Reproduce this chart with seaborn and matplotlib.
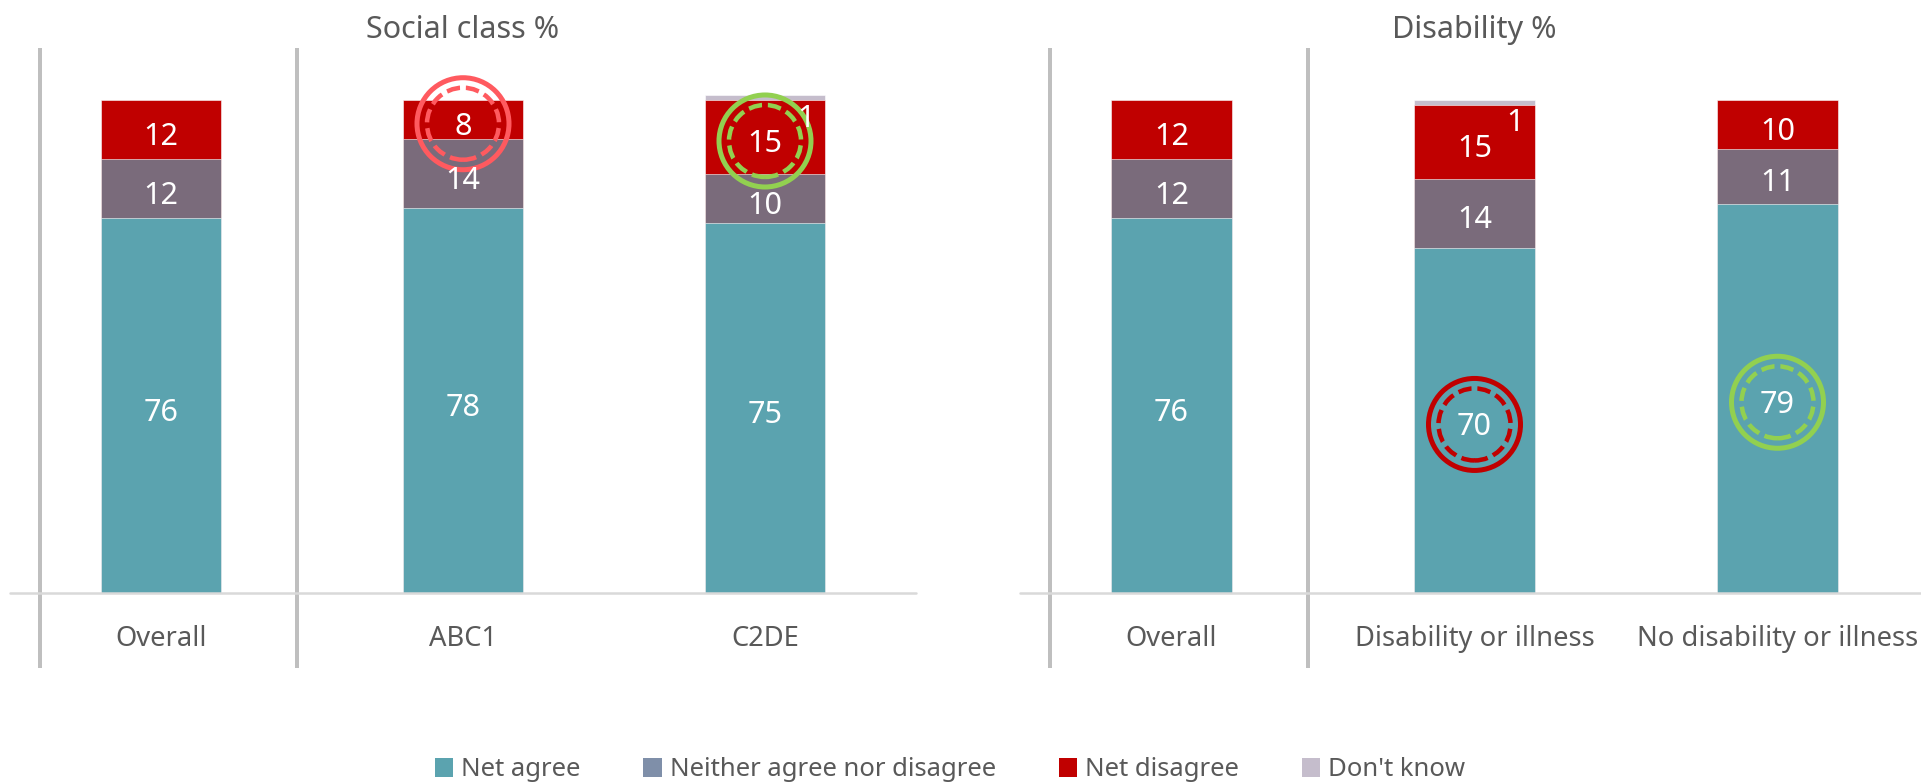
import matplotlib
matplotlib.use("Agg")
import matplotlib.pyplot as plt
import matplotlib.transforms as mtransforms
from matplotlib.patches import Circle, Patch
import numpy as np
import pandas as pd
import seaborn as sns

# ---- data -------------------------------------------------------------
social_cats = ["Overall", "ABC1", "C2DE"]
social_agree = [76, 78, 75]
social_neither = [12, 14, 10]
social_disagree = [12, 8, 15]
social_dontknow = [0, 0, 1]

disab_cats = ["Overall", "Disability or illness", "No disability or illness"]
disab_agree = [76, 70, 79]
disab_neither = [12, 14, 11]
disab_disagree = [12, 15, 10]
disab_dontknow = [0, 1, 0]

panel_titles = ["Social class %", "Disability %"]
series_names = ["Net agree", "Neither agree nor disagree", "Net disagree", "Don't know"]

# ---- style ------------------------------------------------------------
sns.set_theme(style="white")
plt.rcParams["font.family"] = ["Noto Sans", "DejaVu Sans"]

C_AGREE = "#5BA3AF"
C_NEITHER = "#7A6B7B"
C_NEITHER_KEY = "#7F8FA9"
C_DISAGREE = "#C00000"
C_DK = "#C5BDCC"
C_TEXT = "#595959"
C_SEP = "#BFBFBF"
C_BASE = "#D9D9D9"

W, H, DPI = 1921, 782, 100
fig = plt.figure(figsize=(W / DPI, H / DPI), dpi=DPI)

px = lambda v: v * 72 / DPI  # pixels -> points

base_px = 593            # baseline row (from top)
unit_px = 4.93           # pixels per percentage point
ymax = 105
ax_h = ymax * unit_px
bottom_frac = (H - base_px) / H
height_frac = ax_h / H

ax_left = fig.add_axes([10 / W, bottom_frac, 906 / W, height_frac])
ax_right = fig.add_axes([1020 / W, bottom_frac, 909 / W, height_frac])

panels = [
    (ax_left, social_cats, social_agree, social_neither, social_disagree, social_dontknow),
    (ax_right, disab_cats, disab_agree, disab_neither, disab_disagree, disab_dontknow),
]

BAR_W = 0.4
LABEL_DROP = px(-7)   # value labels sit a touch below the segment middle

for (ax, cats, agree, neither, disagree, dk), title in zip(panels, panel_titles):
    df = pd.DataFrame({"cat": cats, "agree": agree, "neither": neither,
                       "disagree": disagree, "dk": dk})
    df["c1"] = df["agree"]
    df["c2"] = df["c1"] + df["neither"]
    df["c3"] = df["c2"] + df["disagree"]
    df["c4"] = df["c3"] + df["dk"]

    # stacked bars: draw cumulative totals, tallest first
    for col, color in [("c4", C_DK), ("c3", C_DISAGREE), ("c2", C_NEITHER), ("c1", C_AGREE)]:
        sns.barplot(data=df, x="cat", y=col, color=color, width=BAR_W, ax=ax,
                    order=cats, saturation=1, edgecolor="white", linewidth=0.4,
                    errorbar=None)

    # segment value labels
    for i, row in df.iterrows():
        segs = [(0, row["agree"]), (row["c1"], row["neither"]), (row["c2"], row["disagree"])]
        for start, val in segs:
            if val > 0:
                ax.annotate(f"{val:g}", xy=(i, start + val / 2),
                            xytext=(0, LABEL_DROP), textcoords="offset points",
                            ha="center", va="center", color="white", fontsize=22,
                            zorder=6)
        if row["dk"] > 0:
            ax.annotate(f"{row['dk']:g}", xy=(i, row["c3"] + row["dk"] / 2),
                        xytext=(px(41), px(-21)), textcoords="offset points",
                        ha="center", va="center", color="white", fontsize=22, zorder=6)

    ax.set_xlim(-0.5, 2.5)
    ax.set_ylim(0, ymax)
    ax.set_xlabel("")
    ax.set_ylabel("")
    ax.set_yticks([])
    ax.tick_params(axis="x", length=0, pad=px(32), labelsize=19.7, labelcolor=C_TEXT)
    sns.despine(ax=ax, left=True, bottom=True)
    ax.axhline(0, color=C_BASE, lw=px(2.5), zorder=1, clip_on=False)

    # group separators
    trans = mtransforms.blended_transform_factory(ax.transData, ax.transAxes)
    y_lo = (base_px - 668) / ax_h
    y_hi = (base_px - 48) / ax_h
    for xs in (-0.4, 0.45):
        ax.plot([xs, xs], [y_lo, y_hi], transform=trans, color=C_SEP,
                lw=px(4), clip_on=False, solid_capstyle="butt", zorder=0)

    ax.text(0.5, (base_px - 30) / ax_h, title, transform=ax.transAxes,
            ha="center", va="center", fontsize=22, color=C_TEXT)


def ring(ax, x, y, color):
    """Highlight ring (solid outer + dashed inner) centred on a data point."""
    off = mtransforms.ScaledTranslation(x, y, ax.transData)
    drop = mtransforms.ScaledTranslation(0, -4 / DPI, fig.dpi_scale_trans)
    tr = fig.dpi_scale_trans + off + drop
    outer = Circle((0, 0), 46 / DPI, transform=tr, fill=False, ec=color,
                   lw=px(5), clip_on=False, zorder=5)
    inner = Circle((0, 0), 36 / DPI, transform=tr, fill=False, ec=color,
                   lw=px(4.5), ls=(0, (3, 1.3)), clip_on=False, zorder=5)
    ax.add_patch(outer)
    ax.add_patch(inner)


# highlighted figures
ring(ax_left, 1, social_agree[1] + social_neither[1] + social_disagree[1] / 2, "#FF5A5F")
ring(ax_left, 2, social_agree[2] + social_neither[2] + social_disagree[2] / 2, "#92D050")
ring(ax_right, 1, disab_agree[1] / 2, "#C00000")
ring(ax_right, 2, disab_agree[2] / 2, "#92D050")

# legend
handles = [Patch(facecolor=c, edgecolor="none", label=n)
           for c, n in zip([C_AGREE, C_NEITHER_KEY, C_DISAGREE, C_DK], series_names)]
leg = fig.legend(handles=handles, loc="center", bbox_to_anchor=(950 / W, (H - 770) / H),
                 ncol=4, frameon=False, fontsize=18.5, handlelength=0.72, handleheight=0.72,
                 handletextpad=0.3, columnspacing=2.45, borderaxespad=0)
for t in leg.get_texts():
    t.set_color(C_TEXT)

fig.savefig("out.png", dpi=DPI, facecolor="white")
